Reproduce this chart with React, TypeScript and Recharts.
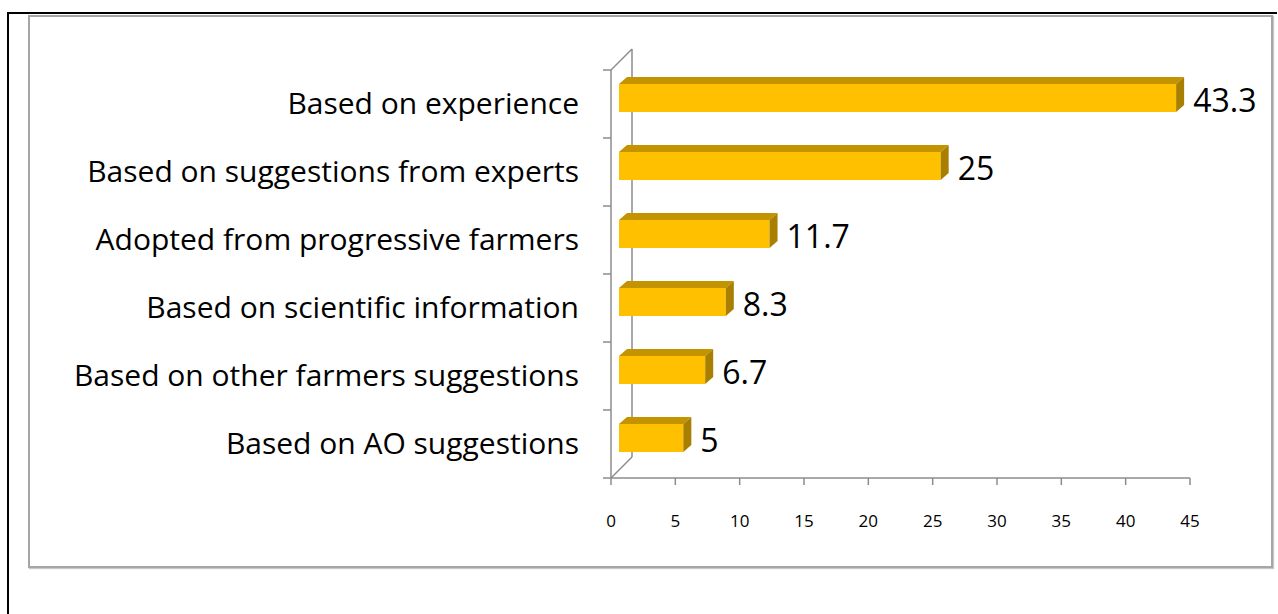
import * as R from "recharts";
import { Bar, BarChart, LabelList, XAxis, YAxis } from "recharts";

const categories = [
  "Based on experience",
  "Based on suggestions from experts",
  "Adopted from progressive farmers",
  "Based on scientific information",
  "Based on other farmers suggestions",
  "Based on AO suggestions",
];
const percents = [43.3, 25, 11.7, 8.3, 6.7, 5];
const xTicks = [0, 5, 10, 15, 20, 25, 30, 35, 40, 45];

const data = categories.map((name, i) => ({ name, value: percents[i] }));

const FONT = "'Open Sans', 'Noto Sans', sans-serif";
const DX = 8; // depth of the 3d effect
const DY = 7;
const SHIFT = 8; // bars sit a bit right of the front axis
const AXIS = "#8c8c8c";

function Bar3D(props: any) {
  const { x, y, width, height } = props;
  const fx = x + SHIFT;
  const fy = y - 6;
  const w = Math.max(width, 0);
  return (
    <g>
      <rect x={fx} y={fy} width={w} height={height} fill="#FFC000" />
      <polygon
        points={`${fx},${fy} ${fx + DX},${fy - DY} ${fx + w + DX},${fy - DY} ${fx + w},${fy}`}
        fill="#C49400"
      />
      <polygon
        points={`${fx + w},${fy} ${fx + w + DX},${fy - DY} ${fx + w + DX},${fy + height - DY} ${fx + w},${fy + height}`}
        fill="#A87F00"
      />
    </g>
  );
}

function ValueLabel(props: any) {
  const { x, y, width, height, value } = props;
  return (
    <text
      x={x + width + SHIFT + DX + 9}
      y={y + height / 2 - 5}
      fontSize={32}
      fontFamily={FONT}
      fill="#000"
      dominantBaseline="central"
    >
      {value}
    </text>
  );
}

function CategoryTick(props: any) {
  const { x, y, payload, index } = props;
  const band = 68;
  const ax = x + 8;
  return (
    <g>
      <line x1={ax - 8} x2={ax} y1={y - band / 2} y2={y - band / 2} stroke={AXIS} strokeWidth={1.5} />
      {index === categories.length - 1 && (
        <line x1={ax - 8} x2={ax} y1={y + band / 2} y2={y + band / 2} stroke={AXIS} strokeWidth={1.5} />
      )}
      <text
        x={x - 24}
        y={y - 2}
        textAnchor="end"
        dominantBaseline="central"
        fontSize={30}
        fontFamily={FONT}
        fill="#000"
      >
        {payload.value}
      </text>
    </g>
  );
}

function BackWall() {
  const area = (R as any).usePlotArea ? (R as any).usePlotArea() : null;
  if (!area) return null;
  const { x, y, height } = area;
  const d = 21;
  return (
    <g>
      <line x1={x} y1={y} x2={x + d} y2={y - d} stroke={AXIS} strokeWidth={1.5} />
      <line x1={x + d} y1={y - d} x2={x + d} y2={y + height - d} stroke={AXIS} strokeWidth={1.5} />
      <line x1={x} y1={y + height} x2={x + d} y2={y + height - d} stroke={AXIS} strokeWidth={1.5} />
    </g>
  );
}

export default function App() {
  return (
    <div style={{ position: "absolute", left: 0, top: 0, width: 1278, height: 614, background: "#fff" }}>
      <div style={{ position: "absolute", left: 7, top: 12, width: 1270, height: 2, background: "#000" }} />
      <div style={{ position: "absolute", left: 7, top: 12, width: 2, height: 602, background: "#000" }} />
      <div
        style={{
          position: "absolute",
          left: 28,
          top: 15,
          width: 1241,
          height: 549,
          border: "2px solid #a6a6a6",
          boxShadow: "1px 1px 1px #c8c8c8",
        }}
      />
      <div style={{ position: "absolute", left: 0, top: 0 }}>
        <BarChart
          width={1278}
          height={614}
          data={data}
          layout="vertical"
          margin={{ top: 70, right: 88, bottom: 76, left: 11 }}
          barCategoryGap={0}
        >
          <BackWall />
          <XAxis
            type="number"
            domain={[0, 45]}
            ticks={xTicks}
            interval={0}
            stroke={AXIS}
            strokeWidth={1.5}
            tickSize={7}
            tickMargin={30}
            height={60}
            tick={{ fill: "#000", fontSize: 17, fontFamily: FONT }}
          />
          <YAxis
            type="category"
            dataKey="name"
            width={600}
            stroke={AXIS}
            strokeWidth={1.5}
            tickLine={false}
            tick={<CategoryTick />}
            interval={0}
          />
          <Bar dataKey="value" barSize={28} shape={<Bar3D />} isAnimationActive={false}>
            <LabelList dataKey="value" content={<ValueLabel />} />
          </Bar>
        </BarChart>
      </div>
    </div>
  );
}
